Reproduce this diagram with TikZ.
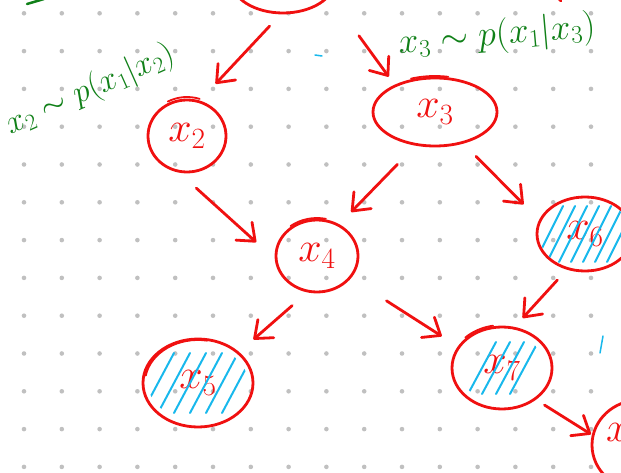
\RequirePackage{fix-cm}
\documentclass[tikz,border=0pt]{standalone}
\usetikzlibrary{arrows.meta,shapes.geometric,calc}
\definecolor{inkred}{RGB}{240,16,16}
\definecolor{inkgreen}{RGB}{16,128,24}
\definecolor{inkcyan}{RGB}{24,184,236}
\definecolor{dotgray}{RGB}{192,192,192}

\begin{document}
\begin{tikzpicture}[x=1pt,y=-1pt,
  rv/.style={ellipse, draw=inkred, line width=2.8pt, inner sep=0pt, text=inkred,
             font=\fontsize{42}{46}\selectfont},
  rvlabel/.style={text=inkred, inner sep=0pt, font=\fontsize{42}{46}\selectfont},
  link/.style={draw=inkred, line width=2.8pt, line cap=round,
               -{Straight Barb[length=15pt,width=24pt,round]}},
  hatchline/.style={draw=inkcyan, line width=2pt, line cap=round},
  note/.style={text=inkgreen, inner sep=0pt},
]
\useasboundingbox (0,0) rectangle (621,473);
\clip (0,0) rectangle (621,473);

% dotted paper
\foreach \i in {0,...,15}
  \foreach \j in {0,...,12}
    \fill[dotgray] (24+37.8*\i, 13.3+37.8*\j) circle[radius=2.3];

% random variables
\node[rv, minimum width=104pt, minimum height=66pt] (x1) at (283,-20) {};
\node[rv, minimum width=78pt,  minimum height=72pt] (x2) at (187,136) {$x_2$};
\node[rv, minimum width=124pt, minimum height=68pt] (x3) at (435,112) {$x_3$};
\node[rv, minimum width=82pt,  minimum height=72pt] (x4) at (317,256) {$x_4$};
\node[rv, minimum width=110pt, minimum height=88pt] (x5) at (198,383) {$x_5$};
\node[rv, minimum width=96pt,  minimum height=74pt] (x6) at (585,234) {$x_6$};
\node[rv, minimum width=100pt, minimum height=82pt] (x7) at (502,368) {$x_7$};
\node[rv, minimum width=96pt,  minimum height=90pt] (x8) at (640,445) {};
\node[rvlabel, anchor=west] (x8label) at (606,436) {$x_8$};

% pen overstrokes along the rims
\begin{scope}[draw=inkred, line width=1.8pt, line cap=round]
  \draw ([shift={(118:41pt and 39pt)}]x2.center) arc[start angle=118, end angle=72, x radius=41pt, y radius=39pt];
  \draw ([shift={(112:64pt and 36pt)}]x3.center) arc[start angle=112, end angle=78, x radius=64pt, y radius=36pt];
  \draw ([shift={(128:43pt and 38pt)}]x4.center) arc[start angle=128, end angle=78, x radius=43pt, y radius=38pt];
  \draw ([shift={(170:53pt and 43pt)}]x5.center) arc[start angle=170, end angle=80, x radius=53pt, y radius=43pt];
  \draw ([shift={(135:52pt and 43pt)}]x7.center) arc[start angle=135, end angle=100, x radius=52pt, y radius=43pt];
\end{scope}

% observed variables, shaded by hand
\begin{scope}
  \clip (x5.center) ellipse[x radius=50, y radius=38];
  \foreach \o in {-40,-24,-8,8,24,40}
    \draw[hatchline] ($(x5.center)+(\o-16,30)$) -- ($(x5.center)+(\o+16,-30)$);
\end{scope}
\begin{scope}
  \clip (x6.center) ellipse[x radius=46, y radius=36];
  \foreach \o in {-36,-24,-12,0,12,24,36}
    \draw[hatchline] ($(x6.center)+(\o-14,28)$) -- ($(x6.center)+(\o+14,-28)$);
\end{scope}
\begin{scope}
  \clip (x7.center) ellipse[x radius=44, y radius=34];
  \foreach \o in {-20,-6,8,22}
    \draw[hatchline] ($(x7.center)+(\o-14,26)$) -- ($(x7.center)+(\o+14,-26)$);
\end{scope}

% dependencies
\draw[link, shorten <=16pt, shorten >=23pt] (x1.-94)  -- (x2.70);
\draw[link, shorten <=49pt, shorten >=10pt] (x1.-19)  -- (x3.146);
\draw[link, shorten <=23pt, shorten >=25pt] (x2.-102) -- (x4.-176);
\draw[link, shorten <=26pt, shorten >=17pt] (x3.-120) -- (x4.55);
\draw[link, shorten <=18pt, shorten >=22pt] (x3.-48)  -- (x6.163);
\draw[link, shorten <=20pt, shorten >=19pt] (x4.-105) -- (x5.37);
\draw[link, shorten <=42pt, shorten >=19pt] (x4.-33)  -- (x7.154);
\draw[link, shorten <=14pt, shorten >=12pt] (x6.-117) -- (x7.73);
\draw[link, shorten <=10pt, shorten >=1pt]  (x7.-43)  -- (x8.168);

% conditional distributions
\node[note, rotate=24, font=\fontsize{33}{37}\selectfont] (n2) at (90,90) {$x_2 \sim p(x_1|x_2)$};
\node[note, rotate=5,  font=\fontsize{36}{40}\selectfont] (n3) at (497,36) {$x_3 \sim p(x_1|x_3)$};

% stray pen marks
\draw[inkgreen, line width=2.5pt, line cap=round] (27,4) -- (44,-1);
\draw[inkcyan, line width=1.5pt, line cap=round] (315,55) -- (322,56);
\draw[inkcyan, line width=1.5pt, line cap=round] (600,353) -- (603,336);
\draw[inkred, line width=2.5pt, line cap=round] (559,-1) -- (561,1);
\end{tikzpicture}
\end{document}
